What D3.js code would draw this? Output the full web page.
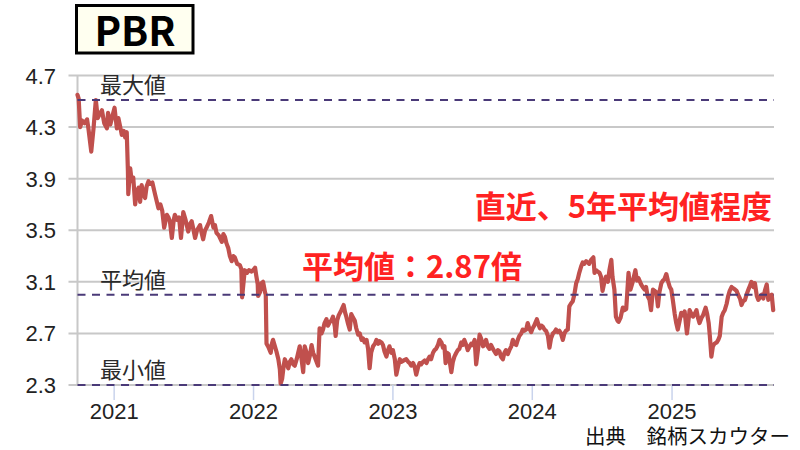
<!DOCTYPE html>
<html><head><meta charset="utf-8">
<script src="https://cdn.jsdelivr.net/npm/d3@7"></script>
<style>body{margin:0;background:#fff}svg{display:block}</style>
</head><body><svg id="c" width="800" height="450"></svg>
<script>
const dates = [
"2020-09-27","2020-09-30","2020-10-04","2020-10-09","2020-10-15","2020-10-22","2020-10-26","2020-11-02","2020-11-08","2020-11-14",
"2020-11-19","2020-11-24","2020-11-30","2020-12-06","2020-12-13","2020-12-16","2020-12-22","2020-12-27","2021-01-02","2021-01-08",
"2021-01-12","2021-01-17","2021-01-21","2021-01-26","2021-01-30","2021-02-03","2021-02-06","2021-02-07","2021-02-12","2021-02-16",
"2021-02-20","2021-02-25","2021-03-01","2021-03-06","2021-03-10","2021-03-14","2021-03-19","2021-03-23","2021-03-27","2021-04-01",
"2021-04-05","2021-04-11","2021-04-18","2021-04-23","2021-04-27","2021-05-02","2021-05-07","2021-05-12","2021-05-19","2021-05-23",
"2021-05-27","2021-06-01","2021-06-06","2021-06-09","2021-06-15","2021-06-20","2021-06-25","2021-07-01","2021-07-07","2021-07-14",
"2021-07-19","2021-07-23","2021-07-28","2021-08-01","2021-08-06","2021-08-14","2021-08-18","2021-08-22","2021-08-27","2021-08-31",
"2021-09-06","2021-09-12","2021-09-18","2021-09-22","2021-09-26","2021-10-02","2021-10-10","2021-10-14","2021-10-18","2021-10-22",
"2021-10-27","2021-10-31","2021-11-05","2021-11-09","2021-11-13","2021-11-19","2021-11-26","2021-11-30","2021-12-02","2021-12-06",
"2021-12-09","2021-12-15","2021-12-20","2021-12-27","2021-12-31","2022-01-05","2022-01-08","2022-01-12","2022-01-13","2022-01-18",
"2022-01-22","2022-01-26","2022-01-31","2022-02-02","2022-02-04","2022-02-08","2022-02-15","2022-02-18","2022-02-21","2022-02-26",
"2022-03-02","2022-03-07","2022-03-11","2022-03-13","2022-03-17","2022-03-21","2022-03-24","2022-03-28","2022-04-02","2022-04-06",
"2022-04-10","2022-04-15","2022-04-19","2022-04-24","2022-04-28","2022-05-02","2022-05-06","2022-05-11","2022-05-15","2022-05-20",
"2022-05-24","2022-05-28","2022-06-02","2022-06-06","2022-06-10","2022-06-15","2022-06-19","2022-06-23","2022-06-28","2022-07-02",
"2022-07-06","2022-07-11","2022-07-15","2022-07-20","2022-07-24","2022-07-28","2022-08-02","2022-08-04","2022-08-08","2022-08-12",
"2022-08-19","2022-08-25","2022-08-29","2022-09-01","2022-09-05","2022-09-10","2022-09-14","2022-09-19","2022-09-23","2022-09-27",
"2022-10-02","2022-10-06","2022-10-11","2022-10-15","2022-10-19","2022-10-24","2022-10-28","2022-11-01","2022-11-05","2022-11-10",
"2022-11-15","2022-11-19","2022-11-24","2022-11-27","2022-12-02","2022-12-06","2022-12-10","2022-12-15","2022-12-19","2022-12-23",
"2022-12-28","2023-01-01","2023-01-06","2023-01-10","2023-01-15","2023-01-19","2023-01-24","2023-01-29","2023-02-05","2023-02-10",
"2023-02-14","2023-02-18","2023-02-23","2023-02-27","2023-03-03","2023-03-08","2023-03-12","2023-03-16","2023-03-21","2023-03-25",
"2023-03-30","2023-04-03","2023-04-07","2023-04-11","2023-04-16","2023-04-20","2023-04-24","2023-04-29","2023-05-03","2023-05-08",
"2023-05-12","2023-05-16","2023-05-19","2023-05-23","2023-05-27","2023-05-31","2023-06-03","2023-06-07","2023-06-11","2023-06-16",
"2023-06-20","2023-06-24","2023-06-29","2023-07-03","2023-07-07","2023-07-12","2023-07-16","2023-07-21","2023-07-25","2023-07-29",
"2023-08-03","2023-08-07","2023-08-12","2023-08-16","2023-08-20","2023-08-25","2023-08-29","2023-09-02","2023-09-06","2023-09-11",
"2023-09-15","2023-09-20","2023-09-24","2023-09-28","2023-10-03","2023-10-07","2023-10-11","2023-10-16","2023-10-20","2023-10-24",
"2023-10-29","2023-11-02","2023-11-07","2023-11-11","2023-11-15","2023-11-20","2023-11-24","2023-11-28","2023-12-03","2023-12-07",
"2023-12-11","2023-12-16","2023-12-20","2023-12-24","2023-12-29","2024-01-02","2024-01-06","2024-01-13","2024-01-17","2024-01-21",
"2024-01-25","2024-01-29","2024-02-02","2024-02-06","2024-02-11","2024-02-15","2024-02-19","2024-02-24","2024-02-28","2024-03-03",
"2024-03-08","2024-03-12","2024-03-16","2024-03-21","2024-03-25","2024-03-29","2024-04-03","2024-04-07","2024-04-11","2024-04-16",
"2024-04-20","2024-04-25","2024-04-29","2024-05-03","2024-05-08","2024-05-12","2024-05-16","2024-05-21","2024-05-25","2024-05-29",
"2024-06-03","2024-06-09","2024-06-12","2024-06-16","2024-06-20","2024-06-25","2024-06-29","2024-07-03","2024-07-08","2024-07-12",
"2024-07-17","2024-07-21","2024-07-26","2024-07-29","2024-08-03","2024-08-07","2024-08-11","2024-08-14","2024-08-19","2024-08-25",
"2024-08-29","2024-09-03","2024-09-09","2024-09-14","2024-09-20","2024-09-27","2024-10-01","2024-10-05","2024-10-12","2024-10-16",
"2024-10-21","2024-10-25","2024-10-29","2024-11-03","2024-11-07","2024-11-12","2024-11-16","2024-11-21","2024-11-25","2024-11-29",
"2024-12-04","2024-12-08","2024-12-12","2024-12-17","2024-12-21","2024-12-26","2024-12-30","2025-01-03","2025-01-08","2025-01-12",
"2025-01-16","2025-01-21","2025-01-25","2025-01-30","2025-02-03","2025-02-09","2025-02-13","2025-02-16","2025-02-21","2025-02-25",
"2025-03-01","2025-03-06","2025-03-10","2025-03-14","2025-03-19","2025-03-23","2025-03-30","2025-04-03","2025-04-07","2025-04-10",
"2025-04-14","2025-04-18","2025-04-22","2025-04-28","2025-05-02","2025-05-06","2025-05-11","2025-05-15","2025-05-19","2025-05-24",
"2025-05-28","2025-06-01","2025-06-06","2025-06-10","2025-06-15","2025-06-19","2025-06-23","2025-06-28","2025-07-02","2025-07-06",
"2025-07-11","2025-07-15","2025-07-20","2025-07-24","2025-07-28","2025-08-02","2025-08-06","2025-08-11","2025-08-15","2025-08-19",
"2025-08-24","2025-08-28","2025-09-01","2025-09-06","2025-09-10","2025-09-15","2025-09-19","2025-09-23"
];
const pbr = [
4.55,4.52,4.30,4.35,4.33,4.36,4.28,4.11,4.29,4.51,
4.37,4.40,4.43,4.33,4.29,4.41,4.32,4.38,4.45,4.29,
4.37,4.30,4.24,4.27,4.22,4.26,3.96,3.78,3.98,3.88,
3.91,3.70,3.80,3.83,3.72,3.85,3.78,3.75,3.84,3.88,
3.86,3.87,3.78,3.72,3.67,3.70,3.65,3.52,3.62,3.60,
3.57,3.44,3.58,3.62,3.58,3.60,3.44,3.64,3.58,3.49,
3.55,3.57,3.50,3.44,3.50,3.54,3.48,3.43,3.50,3.52,
3.56,3.61,3.52,3.54,3.48,3.46,3.41,3.47,3.45,3.40,
3.36,3.30,3.26,3.30,3.29,3.24,3.23,3.20,2.98,3.10,
3.19,3.17,3.19,3.18,3.19,3.21,3.15,3.08,2.99,3.02,
3.09,3.10,3.02,3.00,2.62,2.60,2.55,2.62,2.65,2.60,
2.56,2.50,2.42,2.31,2.35,2.45,2.50,2.47,2.43,2.48,
2.50,2.46,2.45,2.50,2.55,2.60,2.52,2.40,2.60,2.55,
2.47,2.52,2.61,2.55,2.52,2.48,2.45,2.74,2.70,2.73,
2.78,2.81,2.76,2.79,2.80,2.83,2.75,2.68,2.80,2.84,
2.88,2.92,2.86,2.83,2.78,2.73,2.85,2.82,2.80,2.74,
2.69,2.70,2.65,2.66,2.63,2.65,2.58,2.43,2.55,2.60,
2.62,2.65,2.62,2.64,2.63,2.61,2.56,2.52,2.57,2.60,
2.55,2.57,2.50,2.38,2.45,2.50,2.48,2.49,2.50,2.48,
2.47,2.45,2.47,2.44,2.38,2.44,2.47,2.46,2.48,2.49,
2.47,2.50,2.52,2.50,2.55,2.57,2.58,2.61,2.65,2.63,
2.59,2.60,2.47,2.55,2.54,2.46,2.40,2.48,2.52,2.55,
2.57,2.58,2.63,2.61,2.65,2.61,2.57,2.60,2.62,2.61,
2.65,2.46,2.58,2.69,2.66,2.60,2.62,2.65,2.60,2.58,
2.61,2.58,2.56,2.54,2.57,2.56,2.52,2.50,2.55,2.57,
2.54,2.57,2.60,2.65,2.62,2.61,2.65,2.68,2.70,2.73,
2.72,2.73,2.78,2.74,2.71,2.74,2.76,2.81,2.77,2.74,
2.76,2.75,2.73,2.72,2.68,2.59,2.66,2.70,2.71,2.73,
2.71,2.72,2.70,2.65,2.70,2.72,2.73,2.91,2.93,2.95,
3.00,3.09,3.12,3.17,3.22,3.25,3.24,3.26,3.25,3.24,
3.27,3.29,3.17,3.19,3.18,3.17,3.14,3.03,3.10,3.14,
3.10,3.19,3.27,3.14,3.04,2.83,2.80,2.79,2.82,2.90,
2.88,2.89,3.17,3.04,3.10,3.19,3.11,3.13,3.08,3.06,
3.04,3.06,2.99,2.96,2.88,3.04,3.03,3.02,2.91,3.02,
3.09,3.11,3.12,3.16,3.11,3.06,3.04,2.96,2.85,2.78,
2.73,2.80,2.86,2.84,2.87,2.70,2.80,2.88,2.85,2.83,
2.85,2.88,2.82,2.78,2.82,2.84,2.90,2.85,2.78,2.68,
2.52,2.60,2.62,2.63,2.65,2.68,2.83,2.86,2.88,2.93,
2.99,3.03,3.06,3.05,3.04,3.03,3.00,2.97,2.92,2.95,
2.96,3.00,3.04,3.07,3.10,3.06,3.09,2.99,2.96,2.98,
3.00,2.97,3.03,3.08,2.96,2.99,3.00,2.88
];
const yTicks = [2.3, 2.7, 3.1, 3.5, 3.9, 4.3, 4.7];
const xTickYears = [2021, 2022, 2023, 2024, 2025];
const refLabels = ["最大値", "平均値", "最小値"];
const refValues = [4.51, 3.00, 2.30];
const titleText = "PBR";
const noteMean = "平均値：2.87倍";
const noteRecent = "直近、5年平均値程度";
const sourceText = "出典　銘柄スカウター";

const svg = d3.select("#c");
const parse = d3.timeParse("%Y-%m-%d");
const n = Math.min(dates.length, pbr.length);
const data = d3.range(n).map(i => ({d: parse(dates[i]), v: pbr[i]}));

const L = 77.5, R = 774, T = 75.5, B = 385;
const x = d3.scaleTime().domain([parse("2020-09-27"), parse("2025-09-25")]).range([L, R]);
const y = d3.scaleLinear().domain([2.3, 4.7]).range([B, T]);

const jp = "'Noto Sans CJK JP', sans-serif";
const num = "'Liberation Sans', 'Noto Sans CJK JP', sans-serif";

// gridlines
svg.append("g").selectAll("line").data(yTicks).join("line")
  .attr("x1", L - 9).attr("x2", R)
  .attr("y1", d => y(d)).attr("y2", d => y(d))
  .attr("stroke", "#c8c8c8").attr("stroke-width", 2);
// y axis line
svg.append("line").attr("x1", L).attr("x2", L).attr("y1", T).attr("y2", B)
  .attr("stroke", "#c8c8c8").attr("stroke-width", 2);
// y labels
svg.append("g").selectAll("text").data(yTicks).join("text")
  .attr("x", 56).attr("y", d => y(d) + 8)
  .attr("text-anchor", "end").attr("font-family", num).attr("font-size", 22)
  .attr("fill", "#222").text(d => d.toFixed(1));

// x ticks
const xt = xTickYears.map(yy => new Date(yy, 0, 1));
svg.append("g").selectAll("line").data(xt).join("line")
  .attr("x1", d => x(d)).attr("x2", d => x(d)).attr("y1", B).attr("y2", B + 15)
  .attr("stroke", "#c9d3ec").attr("stroke-width", 1.5);
svg.append("g").selectAll("text").data(xt).join("text")
  .attr("x", d => x(d)).attr("y", 419).attr("text-anchor", "middle")
  .attr("font-family", num).attr("font-size", 22).attr("fill", "#222")
  .text(d => d.getFullYear());

// line
svg.append("path").datum(data)
  .attr("d", d3.line().x(d => x(d.d)).y(d => y(d.v)))
  .attr("fill", "none").attr("stroke", "#c0504d").attr("stroke-width", 4.2)
  .attr("stroke-linejoin", "round").attr("stroke-linecap", "round");

// reference dashed lines
svg.append("g").selectAll("line").data(refValues).join("line")
  .attr("x1", L).attr("x2", R).attr("y1", d => y(d)).attr("y2", d => y(d))
  .attr("stroke", "#4a3a78").attr("stroke-width", 2).attr("stroke-dasharray", "8,6.5");
svg.append("g").selectAll("text").data(refValues).join("text")
  .attr("x", 100).attr("y", d => y(d) - 7)
  .attr("font-family", jp).attr("font-size", 22).attr("fill", "#2a2a2a")
  .text((d, i) => refLabels[i]);

// annotations
svg.append("text").attr("x", 772).attr("y", 218).attr("text-anchor", "end")
  .attr("font-family", jp).attr("font-weight", 700).attr("font-size", 31)
  .attr("fill", "#ff2222").text(noteRecent);
svg.append("text").attr("x", 302).attr("y", 278)
  .attr("font-family", jp).attr("font-weight", 700).attr("font-size", 31)
  .attr("fill", "#ff2222").text(noteMean);

// title box
svg.append("rect").attr("x", 76.5).attr("y", 5.5).attr("width", 116.5).attr("height", 47.5)
  .attr("fill", "#fffff0").attr("stroke", "#000").attr("stroke-width", 3);
svg.append("text").attr("x", 135).attr("y", 45.5).attr("text-anchor", "middle")
  .attr("font-family", jp).attr("font-weight", 700).attr("font-size", 40)
  .attr("fill", "#000").text(titleText);

// source
svg.append("text").attr("x", 585).attr("y", 444)
  .attr("font-family", jp).attr("font-size", 20.5).attr("fill", "#111").text(sourceText);
</script>
</body></html>
